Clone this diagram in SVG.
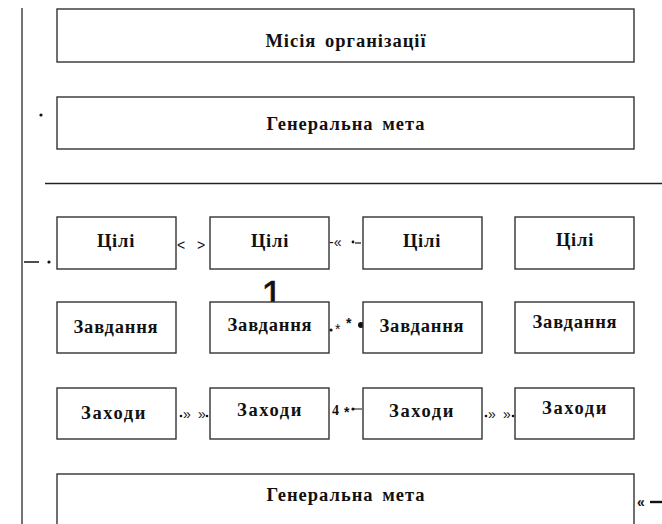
<svg xmlns="http://www.w3.org/2000/svg" width="662" height="524" viewBox="0 0 662 524">
<style>
.box{fill:#fff;stroke:#333;stroke-width:1.4}
.lbl{font-family:'Liberation Serif','Times New Roman',serif;font-weight:bold;font-size:18.5px;letter-spacing:0.8px;fill:#111;text-anchor:middle}
.big{letter-spacing:1px;word-spacing:3px}
.act{letter-spacing:1.6px}
.sym{font-family:'Liberation Sans',Arial,sans-serif;font-size:14px;fill:#111}
.ln{stroke:#444;stroke-width:1.5;fill:none}
</style>
<rect width="662" height="524" fill="#fff"/>
<g id="connectors">
<line class="ln" x1="22" y1="8" x2="22" y2="524"/>
<line x1="45" y1="183.5" x2="662" y2="183.5" stroke="#222" stroke-width="1.4"/>
<line x1="24" y1="262" x2="39" y2="262" stroke="#222" stroke-width="1.6"/>
<circle cx="49" cy="262" r="1.6" fill="#111"/>
<circle cx="41" cy="115" r="1.6" fill="#111"/>
<text class="sym" x="177" y="250" font-size="17">&lt;</text>
<text class="sym" x="197" y="250" font-size="17">&gt;</text>
<text class="sym" x="329" y="247" font-size="12">-«</text>
<circle cx="353" cy="242" r="1.4" fill="#111"/>
<line x1="355" y1="243" x2="361" y2="243" stroke="#111" stroke-width="1.2"/>
<circle cx="331" cy="330" r="1.6" fill="#111"/>
<text class="sym" x="335" y="334" font-size="9">*</text>
<text class="sym" x="346" y="328" font-size="16" font-weight="bold">*</text>
<circle cx="361" cy="325" r="3" fill="#111"/>
<text x="272" y="308" font-family="'Liberation Sans',Arial,sans-serif" font-size="39" text-anchor="middle" fill="#111" stroke="#111" stroke-width="0.6">1</text>
<circle cx="181" cy="416" r="1.3" fill="#111"/>
<text class="sym" x="183" y="419" font-size="9">»</text>
<text class="sym" x="198" y="419" font-size="9">»</text>
<circle cx="207" cy="416" r="1.3" fill="#111"/>
<text x="332" y="415" font-family="'Liberation Serif',serif" font-weight="bold" font-size="14" fill="#111">4</text>
<text class="sym" x="344" y="417" font-size="12" font-weight="bold">*</text>
<circle cx="353" cy="409" r="1.6" fill="#111"/>
<line x1="353" y1="409" x2="362" y2="409" stroke="#111" stroke-width="1"/>
<circle cx="486" cy="416" r="1.3" fill="#111"/>
<text class="sym" x="488" y="419" font-size="9">»</text>
<text class="sym" x="503" y="419" font-size="9">»</text>
<circle cx="513" cy="416" r="1.3" fill="#111"/>
<text class="sym" x="637" y="507" font-size="17" font-weight="bold">«</text>
<line x1="650" y1="502" x2="662" y2="502" stroke="#111" stroke-width="2.4"/>
</g>
<g id="mission"><rect class="box" x="57" y="9" width="577" height="53"/><text class="lbl big" x="346" y="47">Місія організації</text></g>
<g id="goal-top"><rect class="box" x="57" y="97" width="577" height="52"/><text class="lbl big" x="346" y="130">Генеральна мета</text></g>
<g id="goal1"><rect class="box" x="57" y="217" width="119" height="52"/><text class="lbl" x="116" y="247">Цілі</text></g>
<g id="goal2"><rect class="box" x="210" y="217" width="119" height="52"/><text class="lbl" x="270" y="247">Цілі</text></g>
<g id="goal3"><rect class="box" x="363" y="217" width="119" height="52"/><text class="lbl" x="422" y="247">Цілі</text></g>
<g id="goal4"><rect class="box" x="515" y="217" width="119" height="52"/><text class="lbl" x="575" y="246">Цілі</text></g>
<g id="task1"><rect class="box" x="57" y="302" width="119" height="51"/><text class="lbl" x="116" y="333">Завдання</text></g>
<g id="task2"><rect class="box" x="210" y="302" width="119" height="51"/><text class="lbl" x="270" y="331">Завдання</text></g>
<g id="task3"><rect class="box" x="363" y="302" width="119" height="51"/><text class="lbl" x="422" y="332">Завдання</text></g>
<g id="task4"><rect class="box" x="515" y="302" width="119" height="51"/><text class="lbl" x="575" y="328">Завдання</text></g>
<g id="act1"><rect class="box" x="57" y="388" width="119" height="51"/><text class="lbl act" x="114" y="419">Заходи</text></g>
<g id="act2"><rect class="box" x="210" y="388" width="119" height="51"/><text class="lbl act" x="270" y="416">Заходи</text></g>
<g id="act3"><rect class="box" x="363" y="388" width="119" height="51"/><text class="lbl act" x="422" y="417">Заходи</text></g>
<g id="act4"><rect class="box" x="515" y="388" width="119" height="51"/><text class="lbl act" x="575" y="414">Заходи</text></g>
<g id="goal-bottom"><rect class="box" x="57" y="474" width="577" height="60"/><text class="lbl big" x="346" y="501">Генеральна мета</text></g>
</svg>
